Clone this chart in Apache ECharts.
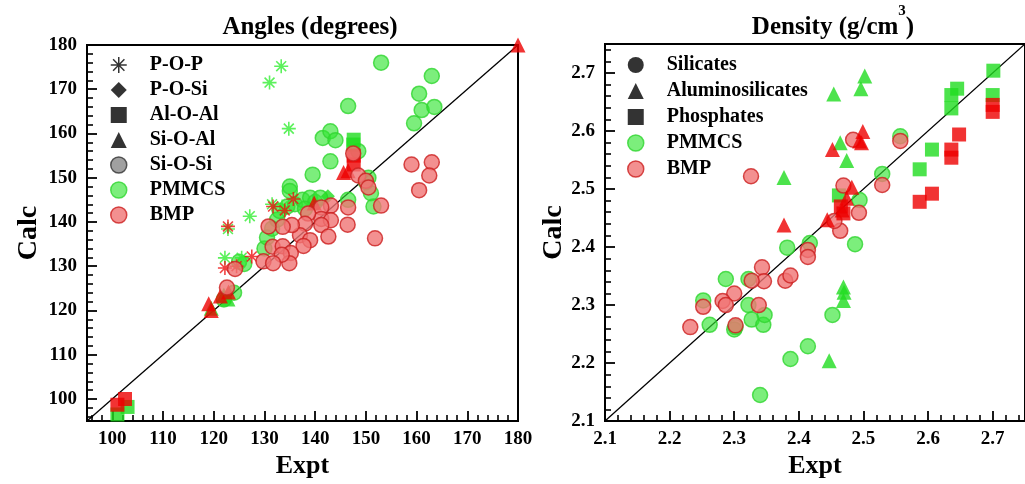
<!DOCTYPE html>
<html><head><meta charset="utf-8">
<script src="https://cdn.jsdelivr.net/npm/echarts@6/dist/echarts.min.js"></script>
<style>html,body{margin:0;padding:0;background:#fff}#c{width:1025px;height:484px}</style>
</head><body><div id="c"></div>
<script>
// ---------- tick labels ----------
const angleTicks = [100, 110, 120, 130, 140, 150, 160, 170, 180];
const angleMinorTicks = [96, 98, 102, 104, 106, 108, 112, 114, 116, 118, 122, 124, 126, 128, 132, 134, 136, 138, 142, 144, 146, 148, 152, 154, 156, 158, 162, 164, 166, 168, 172, 174, 176, 178];
const densTicks = [2.1, 2.2, 2.3, 2.4, 2.5, 2.6, 2.7];
const densMinorTicks = [2.12, 2.14, 2.16, 2.18, 2.22, 2.24, 2.26, 2.28, 2.32, 2.34, 2.36, 2.38, 2.42, 2.44, 2.46, 2.48, 2.52, 2.54, 2.56, 2.58, 2.62, 2.64, 2.66, 2.68, 2.72, 2.74];
const angleRange = [95, 180];
const densRange = [2.1, 2.75];
const angleDiag = [[95, 95], [180, 180]];
const densDiag = [[2.1, 2.1], [2.75, 2.75]];

// ---------- legends ----------
const angleLegend = ['P-O-P', 'P-O-Si', 'Al-O-Al', 'Si-O-Al', 'Si-O-Si', 'PMMCS', 'BMP'];
const densLegend = ['Silicates', 'Aluminosilicates', 'Phosphates', 'PMMCS', 'BMP'];

// ---------- Angles (degrees): [Expt, Calc] ----------
const angPMMCS_POP = [[131, 171.5], [133.3, 175.2], [134.8, 161.1], [127.1, 141.3], [122.8, 138.4], [122.2, 131.9], [125.5, 131.9], [133.5, 143.5], [131.5, 144]];
const angPMMCS_POSi = [[142.5, 145.8]];
const angPMMCS_AlOAl = [[101, 96.5], [103, 98.2], [147.5, 157.5], [147.6, 158.6]];
const angPMMCS_SiOAl = [[119.5, 120.5], [122, 123.5], [122.8, 122.6]];
const angPMMCS_SiOSi = [[153, 176], [163, 173], [160.5, 169], [161, 165.3], [163.5, 166], [159.5, 162.3], [146.5, 166.2], [141.5, 159], [143, 160.5], [144, 158.5], [143, 153.7], [139.5, 150.7], [135, 148], [135, 147], [146.5, 145], [150.5, 150], [151, 146.5], [151.5, 143.5], [148.5, 156], [130, 134], [130.5, 136.5], [131.5, 138.5], [132.5, 140.5], [133, 142.5], [134.5, 143.5], [136, 144], [137.5, 145], [139, 145.5], [140, 144.5], [141, 145.5], [138, 143], [124, 124], [125, 131], [126, 130.5], [122, 122.5], [150, 149]];

const angBMP_POP = [[131.7, 143.5], [134, 142.6], [135.7, 145.2], [122.8, 139], [122.2, 129.6], [127.5, 132.2], [124.5, 130]];
const angBMP_POSi = [];
const angBMP_AlOAl = [[101, 98.7], [102.5, 100], [147.6, 155], [147.6, 153]];
const angBMP_SiOAl = [[180, 180], [119, 121.5], [119.5, 120], [121.3, 123.3], [122.9, 124.2], [139.8, 144.3], [145.6, 151.2], [146.5, 151.6]];
const angBMP_SiOSi = [[151.8, 136.3], [153, 143.7], [159, 153], [163, 153.5], [162.5, 150.5], [160.5, 147.2], [147.5, 155.5], [148.5, 150.5], [150, 149.3], [150.5, 147.8], [146.5, 143.3], [146.4, 139.4], [143.1, 143.7], [141.2, 143.3], [141.2, 140.7], [143.1, 140.4], [141.2, 139.3], [142.6, 136.7], [138.6, 141.9], [138, 139.6], [137, 137], [139, 135.9], [137.7, 134.6], [135.4, 139.3], [133.6, 138.9], [130.8, 139], [131.6, 134.4], [133.6, 134.5], [135.2, 133], [134.9, 130.7], [133.4, 132.6], [129.8, 131.1], [131.7, 130.7], [124.2, 129.4], [122.6, 125.2]];

// ---------- Density (g/cm3): [Expt, Calc] ----------
const denPMMCS_Sil = [[2.34, 2.145], [2.387, 2.207], [2.414, 2.229], [2.452, 2.283], [2.487, 2.405], [2.382, 2.399], [2.417, 2.407], [2.287, 2.345], [2.322, 2.345], [2.252, 2.308], [2.262, 2.266], [2.300, 2.258], [2.322, 2.300], [2.327, 2.275], [2.345, 2.266], [2.347, 2.283], [2.494, 2.481], [2.557, 2.591], [2.529, 2.526], [2.302, 2.262]];
const denPMMCS_Alu = [[2.454, 2.664], [2.496, 2.673], [2.502, 2.695], [2.464, 2.580], [2.474, 2.549], [2.377, 2.520], [2.469, 2.331], [2.47, 2.322], [2.469, 2.308], [2.447, 2.204]];
const denPMMCS_Pho = [[2.701, 2.704], [2.700, 2.662], [2.645, 2.673], [2.636, 2.662], [2.636, 2.639], [2.606, 2.568], [2.587, 2.534], [2.462, 2.489]];
const denBMP_Sil = [[2.326, 2.522], [2.484, 2.585], [2.557, 2.583], [2.529, 2.507], [2.469, 2.506], [2.493, 2.459], [2.464, 2.428], [2.414, 2.395], [2.414, 2.383], [2.379, 2.342], [2.387, 2.351], [2.343, 2.365], [2.346, 2.341], [2.327, 2.342], [2.300, 2.320], [2.282, 2.307], [2.287, 2.300], [2.252, 2.297], [2.232, 2.262], [2.302, 2.265], [2.338, 2.300], [2.455, 2.445]];
const denBMP_Alu = [[2.452, 2.568], [2.499, 2.599], [2.494, 2.583], [2.377, 2.438], [2.444, 2.447], [2.482, 2.503], [2.474, 2.484], [2.467, 2.464], [2.497, 2.58]];
const denBMP_Pho = [[2.700, 2.645], [2.700, 2.633], [2.648, 2.594], [2.636, 2.568], [2.636, 2.554], [2.587, 2.478], [2.606, 2.492], [2.469, 2.458], [2.465, 2.47]];

// ---------- styles ----------
const FONT = 'Liberation Serif';
const STAR = 'path://M0,-10L0,10M-10,0L10,0M-7.07,-7.07L7.07,7.07M-7.07,7.07L7.07,-7.07';
const GREEN_C = {color: 'rgba(50,228,50,0.8)', borderColor: '#30d630', borderWidth: 1.5};
const RED_C = {color: '#f07474', borderColor: '#cc1f1f', borderWidth: 1.5};
const GREEN_S = {color: '#1fdc1f'};
const RED_S = {color: '#ee0000'};
const GREEN_STAR = {color: '#33ee33', borderColor: '#33ee33', borderWidth: 1.6};
const RED_STAR = {color: '#ee1111', borderColor: '#ee1111', borderWidth: 1.6};
const TICK_LABEL = {color: '#000', fontFamily: FONT, fontWeight: 'bold', fontSize: 19};

function xMain(gi, range, ticks, fmt, nameGap) {
  return {type: 'value', gridIndex: gi, min: range[0], max: range[1], position: 'bottom',
    axisLine: {show: true, onZero: false, lineStyle: {color: '#000', width: 2}},
    axisTick: {show: true, inside: true, length: 10, customValues: ticks, lineStyle: {color: '#000', width: 1.8}},
    axisLabel: Object.assign({customValues: ticks, formatter: fmt, margin: 8}, TICK_LABEL),
    splitLine: {show: false},
    name: 'Expt', nameLocation: 'middle', nameGap: nameGap,
    nameTextStyle: {color: '#000', fontFamily: FONT, fontWeight: 'bold', fontSize: 26}};
}
function yMain(gi, range, ticks, fmt, nameGap) {
  return {type: 'value', gridIndex: gi, min: range[0], max: range[1], position: 'left',
    axisLine: {show: true, onZero: false, lineStyle: {color: '#000', width: 2}},
    axisTick: {show: true, inside: true, length: 10, customValues: ticks, lineStyle: {color: '#000', width: 1.8}},
    axisLabel: Object.assign({customValues: ticks, formatter: fmt, margin: 10}, TICK_LABEL),
    splitLine: {show: false},
    name: 'Calc', nameLocation: 'middle', nameGap: nameGap,
    nameTextStyle: {color: '#000', fontFamily: FONT, fontWeight: 'bold', fontSize: 28}};
}
function minorAxis(gi, range, ticks, pos) {
  return {type: 'value', gridIndex: gi, min: range[0], max: range[1], position: pos,
    axisLine: {show: false, onZero: false},
    axisTick: {show: true, inside: true, length: 6, customValues: ticks, lineStyle: {color: '#000', width: 1.6}},
    axisLabel: {show: false}, splitLine: {show: false}};
}
const fA = v => String(Math.round(v));
const fD = v => Number(v).toFixed(1);

function sc(name, data, xi, yi, symbol, size, style) {
  return {type: 'scatter', name: name, data: data, xAxisIndex: xi, yAxisIndex: yi,
    symbol: symbol, symbolSize: size, itemStyle: style, silent: true, animation: false};
}
function diag(data, xi, yi) {
  return {type: 'line', data: data, xAxisIndex: xi, yAxisIndex: yi, symbol: 'none', silent: true,
    lineStyle: {color: '#000', width: 1.3}, animation: false, z: 1};
}

const legendText = {fontFamily: FONT, fontWeight: 'bold', fontSize: 20, color: '#000', padding: [0, 0, 0, 18], lineHeight: 20};
const blk = {color: '#000', borderColor: '#000', borderWidth: 0};

const option = {
  backgroundColor: '#fff',
  animation: false,
  textStyle: {fontFamily: FONT, fontWeight: 'bold', color: '#000'},
  grid: [
    {left: 87, top: 45, width: 431, height: 383, show: true, borderColor: '#000', borderWidth: 2, backgroundColor: 'transparent'},
    {left: 605, top: 44, width: 434, height: 384, show: true, borderColor: '#000', borderWidth: 2, backgroundColor: 'transparent'}
  ],
  xAxis: [
    xMain(0, angleRange, angleTicks, fA, 22), minorAxis(0, angleRange, angleMinorTicks, 'bottom'),
    xMain(1, densRange, densTicks, fD, 22), minorAxis(1, densRange, densMinorTicks, 'bottom')
  ],
  yAxis: [
    yMain(0, angleRange, angleTicks, fA, 44), minorAxis(0, angleRange, angleMinorTicks, 'left'),
    yMain(1, densRange, densTicks, fD, 37), minorAxis(1, densRange, densMinorTicks, 'left')
  ],
  legend: [
    {left: 105, top: 50, orient: 'vertical', itemWidth: 16, itemHeight: 16, itemGap: 5, selectedMode: false,
     textStyle: legendText,
     data: [
       {name: angleLegend[0], icon: STAR, itemStyle: {color: '#000', borderColor: '#000', borderWidth: 1.5}},
       {name: angleLegend[1], icon: 'diamond', itemStyle: blk},
       {name: angleLegend[2], icon: 'rect', itemStyle: blk},
       {name: angleLegend[3], icon: 'triangle', itemStyle: blk},
       {name: angleLegend[4], icon: 'circle', itemStyle: {color: '#888', borderColor: '#333', borderWidth: 1.5}},
       {name: angleLegend[5], icon: 'circle', itemStyle: GREEN_C},
       {name: angleLegend[6], icon: 'circle', itemStyle: RED_C}
     ]},
    {left: 622, top: 50, orient: 'vertical', itemWidth: 16, itemHeight: 16, itemGap: 6, selectedMode: false,
     textStyle: legendText,
     data: [
       {name: densLegend[0], icon: 'circle', itemStyle: blk},
       {name: densLegend[1], icon: 'triangle', itemStyle: blk},
       {name: densLegend[2], icon: 'rect', itemStyle: blk},
       {name: densLegend[3], icon: 'circle', itemStyle: GREEN_C},
       {name: densLegend[4], icon: 'circle', itemStyle: RED_C}
     ]}
  ],
  graphic: [
    {type: 'text', x: 310, y: 28, silent: true,
     style: {text: 'Angles (degrees)', fill: '#000', font: 'bold 25px "Liberation Serif"', align: 'center', verticalAlign: 'middle'}},
    {type: 'text', x: 833, y: 28, silent: true,
     style: {text: '{a|Density (g/cm}{s|3}{a|)}', fill: '#000', align: 'center', verticalAlign: 'middle',
       rich: {a: {fontFamily: FONT, fontWeight: 'bold', fontSize: 25, fill: '#000'},
              s: {fontFamily: FONT, fontWeight: 'bold', fontSize: 15, fill: '#000', padding: [0, 0, 34, 0]}}}}
  ],
  series: [
    diag(angleDiag, 0, 0),
    diag(densDiag, 2, 2),
    // legend-only series (marker type)
    sc(angleLegend[0], [], 0, 0, STAR, 14, {color: '#000'}),
    sc(angleLegend[1], [], 0, 0, 'diamond', 14, blk),
    sc(angleLegend[2], [], 0, 0, 'rect', 14, blk),
    sc(angleLegend[3], [], 0, 0, 'triangle', 14, blk),
    sc(angleLegend[4], [], 0, 0, 'circle', 14, blk),
    sc(densLegend[0], [], 2, 2, 'circle', 14, blk),
    sc(densLegend[1], [], 2, 2, 'triangle', 14, blk),
    sc(densLegend[2], [], 2, 2, 'rect', 14, blk),
    // Angles: PMMCS
    sc('PMMCS', angPMMCS_SiOSi, 0, 0, 'circle', 15, GREEN_C),
    sc('PMMCS', angPMMCS_POP, 0, 0, STAR, 14, GREEN_STAR),
    sc('PMMCS', angPMMCS_POSi, 0, 0, 'diamond', 14, GREEN_S),
    sc('PMMCS', angPMMCS_AlOAl, 0, 0, 'rect', 14, GREEN_S),
    sc('PMMCS', angPMMCS_SiOAl, 0, 0, 'triangle', 15, GREEN_S),
    // Angles: BMP
    sc('BMP', angBMP_POP, 0, 0, STAR, 14, RED_STAR),
    sc('BMP', angBMP_POSi, 0, 0, 'diamond', 14, RED_S),
    sc('BMP', angBMP_AlOAl, 0, 0, 'rect', 14, RED_S),
    sc('BMP', angBMP_SiOAl, 0, 0, 'triangle', 15, RED_S),
    sc('BMP', angBMP_SiOSi, 0, 0, 'circle', 15, RED_C),
    // Density: PMMCS
    sc('PMMCS', denPMMCS_Sil, 2, 2, 'circle', 15, GREEN_C),
    sc('PMMCS', denPMMCS_Alu, 2, 2, 'triangle', 15, GREEN_S),
    sc('PMMCS', denPMMCS_Pho, 2, 2, 'rect', 14, GREEN_S),
    // Density: BMP
    sc('BMP', denBMP_Sil, 2, 2, 'circle', 15, RED_C),
    sc('BMP', denBMP_Alu, 2, 2, 'triangle', 15, RED_S),
    sc('BMP', denBMP_Pho, 2, 2, 'rect', 14, RED_S)
  ]
};
const chart = echarts.init(document.getElementById('c'), null, {renderer: 'canvas'});
chart.setOption(option);
</script></body></html>
